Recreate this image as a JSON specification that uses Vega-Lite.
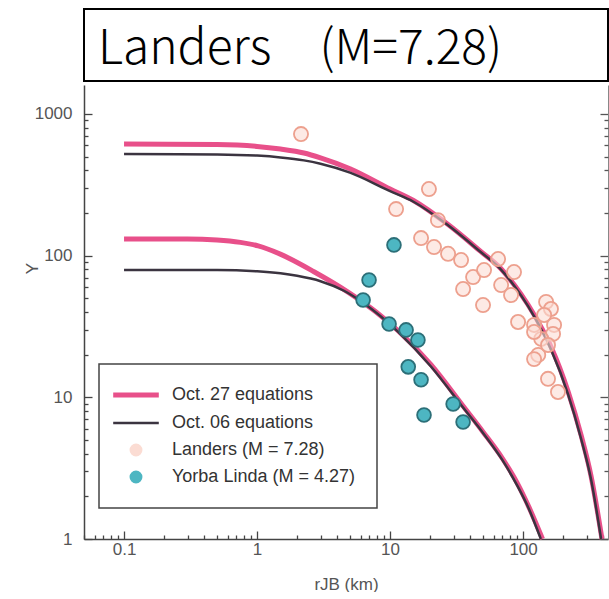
{
  "$schema": "https://vega.github.io/schema/vega-lite/v6.json",
  "padding": {"left": 23, "top": 8, "right": 0, "bottom": 0},
  "spacing": 3,
  "background": "white",
  "config": {"view": {"stroke": null}, "font": "Liberation Sans"},
  "datasets": {
    "curves": [
      {"series": "Oct. 27 equations", "curve": "outer", "r": 0.1, "Y": 613},
      {"series": "Oct. 27 equations", "curve": "outer", "r": 0.5, "Y": 608},
      {"series": "Oct. 27 equations", "curve": "outer", "r": 1, "Y": 590},
      {"series": "Oct. 27 equations", "curve": "outer", "r": 1.5, "Y": 565},
      {"series": "Oct. 27 equations", "curve": "outer", "r": 2.25, "Y": 530},
      {"series": "Oct. 27 equations", "curve": "outer", "r": 3, "Y": 490},
      {"series": "Oct. 27 equations", "curve": "outer", "r": 5, "Y": 410},
      {"series": "Oct. 27 equations", "curve": "outer", "r": 10, "Y": 295},
      {"series": "Oct. 27 equations", "curve": "outer", "r": 15, "Y": 245},
      {"series": "Oct. 27 equations", "curve": "outer", "r": 27, "Y": 167},
      {"series": "Oct. 27 equations", "curve": "outer", "r": 48, "Y": 107},
      {"series": "Oct. 27 equations", "curve": "outer", "r": 68, "Y": 81},
      {"series": "Oct. 27 equations", "curve": "outer", "r": 86, "Y": 62},
      {"series": "Oct. 27 equations", "curve": "outer", "r": 109, "Y": 45},
      {"series": "Oct. 27 equations", "curve": "outer", "r": 140, "Y": 30},
      {"series": "Oct. 27 equations", "curve": "outer", "r": 163, "Y": 22.5},
      {"series": "Oct. 27 equations", "curve": "outer", "r": 218, "Y": 11},
      {"series": "Oct. 27 equations", "curve": "outer", "r": 273, "Y": 5.4},
      {"series": "Oct. 27 equations", "curve": "outer", "r": 324, "Y": 2.8},
      {"series": "Oct. 27 equations", "curve": "outer", "r": 392, "Y": 1},
      {"series": "Oct. 27 equations", "curve": "inner", "r": 0.1, "Y": 131},
      {"series": "Oct. 27 equations", "curve": "inner", "r": 0.3, "Y": 131},
      {"series": "Oct. 27 equations", "curve": "inner", "r": 0.5, "Y": 129},
      {"series": "Oct. 27 equations", "curve": "inner", "r": 0.75, "Y": 124},
      {"series": "Oct. 27 equations", "curve": "inner", "r": 1.02, "Y": 117},
      {"series": "Oct. 27 equations", "curve": "inner", "r": 1.51, "Y": 102},
      {"series": "Oct. 27 equations", "curve": "inner", "r": 2.68, "Y": 77},
      {"series": "Oct. 27 equations", "curve": "inner", "r": 4.83, "Y": 55.3},
      {"series": "Oct. 27 equations", "curve": "inner", "r": 7.85, "Y": 40},
      {"series": "Oct. 27 equations", "curve": "inner", "r": 11.5, "Y": 29.5},
      {"series": "Oct. 27 equations", "curve": "inner", "r": 20.3, "Y": 17},
      {"series": "Oct. 27 equations", "curve": "inner", "r": 36, "Y": 8.5},
      {"series": "Oct. 27 equations", "curve": "inner", "r": 50, "Y": 5.7},
      {"series": "Oct. 27 equations", "curve": "inner", "r": 70, "Y": 3.7},
      {"series": "Oct. 27 equations", "curve": "inner", "r": 90, "Y": 2.5},
      {"series": "Oct. 27 equations", "curve": "inner", "r": 110, "Y": 1.7},
      {"series": "Oct. 27 equations", "curve": "inner", "r": 140, "Y": 1},
      {"series": "Oct. 06 equations", "curve": "outer", "r": 0.1, "Y": 521},
      {"series": "Oct. 06 equations", "curve": "outer", "r": 0.5, "Y": 518},
      {"series": "Oct. 06 equations", "curve": "outer", "r": 1, "Y": 508},
      {"series": "Oct. 06 equations", "curve": "outer", "r": 1.5, "Y": 493},
      {"series": "Oct. 06 equations", "curve": "outer", "r": 2.25, "Y": 470},
      {"series": "Oct. 06 equations", "curve": "outer", "r": 3, "Y": 445},
      {"series": "Oct. 06 equations", "curve": "outer", "r": 5, "Y": 385},
      {"series": "Oct. 06 equations", "curve": "outer", "r": 10, "Y": 285},
      {"series": "Oct. 06 equations", "curve": "outer", "r": 15, "Y": 240},
      {"series": "Oct. 06 equations", "curve": "outer", "r": 27, "Y": 165},
      {"series": "Oct. 06 equations", "curve": "outer", "r": 48, "Y": 106},
      {"series": "Oct. 06 equations", "curve": "outer", "r": 68, "Y": 80},
      {"series": "Oct. 06 equations", "curve": "outer", "r": 86, "Y": 61},
      {"series": "Oct. 06 equations", "curve": "outer", "r": 109, "Y": 44},
      {"series": "Oct. 06 equations", "curve": "outer", "r": 140, "Y": 29},
      {"series": "Oct. 06 equations", "curve": "outer", "r": 163, "Y": 21.5},
      {"series": "Oct. 06 equations", "curve": "outer", "r": 218, "Y": 10.5},
      {"series": "Oct. 06 equations", "curve": "outer", "r": 273, "Y": 5.1},
      {"series": "Oct. 06 equations", "curve": "outer", "r": 324, "Y": 2.65},
      {"series": "Oct. 06 equations", "curve": "outer", "r": 386, "Y": 1},
      {"series": "Oct. 06 equations", "curve": "inner", "r": 0.1, "Y": 79},
      {"series": "Oct. 06 equations", "curve": "inner", "r": 0.5, "Y": 79},
      {"series": "Oct. 06 equations", "curve": "inner", "r": 1, "Y": 77.5},
      {"series": "Oct. 06 equations", "curve": "inner", "r": 1.5, "Y": 75},
      {"series": "Oct. 06 equations", "curve": "inner", "r": 2, "Y": 72},
      {"series": "Oct. 06 equations", "curve": "inner", "r": 3, "Y": 66},
      {"series": "Oct. 06 equations", "curve": "inner", "r": 4.5, "Y": 56.5},
      {"series": "Oct. 06 equations", "curve": "inner", "r": 6.38, "Y": 46},
      {"series": "Oct. 06 equations", "curve": "inner", "r": 11.5, "Y": 29},
      {"series": "Oct. 06 equations", "curve": "inner", "r": 20.3, "Y": 16.5},
      {"series": "Oct. 06 equations", "curve": "inner", "r": 36, "Y": 8.3},
      {"series": "Oct. 06 equations", "curve": "inner", "r": 50, "Y": 5.6},
      {"series": "Oct. 06 equations", "curve": "inner", "r": 70, "Y": 3.6},
      {"series": "Oct. 06 equations", "curve": "inner", "r": 90, "Y": 2.4},
      {"series": "Oct. 06 equations", "curve": "inner", "r": 110, "Y": 1.65},
      {"series": "Oct. 06 equations", "curve": "inner", "r": 136, "Y": 1}
    ],
    "obs": [
      {"series": "Landers (M = 7.28)", "r": 2.14, "Y": 721},
      {"series": "Landers (M = 7.28)", "r": 11.1, "Y": 213},
      {"series": "Landers (M = 7.28)", "r": 19.6, "Y": 295},
      {"series": "Landers (M = 7.28)", "r": 22.9, "Y": 178},
      {"series": "Landers (M = 7.28)", "r": 17.1, "Y": 133},
      {"series": "Landers (M = 7.28)", "r": 21.4, "Y": 115},
      {"series": "Landers (M = 7.28)", "r": 27.3, "Y": 103},
      {"series": "Landers (M = 7.28)", "r": 34.2, "Y": 93.1},
      {"series": "Landers (M = 7.28)", "r": 42.1, "Y": 70.6},
      {"series": "Landers (M = 7.28)", "r": 35.4, "Y": 58.1},
      {"series": "Landers (M = 7.28)", "r": 50.9, "Y": 79.1},
      {"series": "Landers (M = 7.28)", "r": 64.9, "Y": 94.6},
      {"series": "Landers (M = 7.28)", "r": 85.5, "Y": 76.6},
      {"series": "Landers (M = 7.28)", "r": 68.4, "Y": 62.0},
      {"series": "Landers (M = 7.28)", "r": 81.2, "Y": 52.7},
      {"series": "Landers (M = 7.28)", "r": 50.0, "Y": 44.8},
      {"series": "Landers (M = 7.28)", "r": 91.7, "Y": 34.0},
      {"series": "Landers (M = 7.28)", "r": 121, "Y": 32.4},
      {"series": "Landers (M = 7.28)", "r": 149, "Y": 47.1},
      {"series": "Landers (M = 7.28)", "r": 162, "Y": 42.0},
      {"series": "Landers (M = 7.28)", "r": 144, "Y": 38.1},
      {"series": "Landers (M = 7.28)", "r": 171, "Y": 32.4},
      {"series": "Landers (M = 7.28)", "r": 168, "Y": 28.0},
      {"series": "Landers (M = 7.28)", "r": 137, "Y": 25.8},
      {"series": "Landers (M = 7.28)", "r": 130, "Y": 19.9},
      {"series": "Landers (M = 7.28)", "r": 154, "Y": 23.4},
      {"series": "Landers (M = 7.28)", "r": 154, "Y": 13.5},
      {"series": "Landers (M = 7.28)", "r": 183, "Y": 10.9},
      {"series": "Landers (M = 7.28)", "r": 121, "Y": 28.9},
      {"series": "Landers (M = 7.28)", "r": 121, "Y": 18.6},
      {"series": "Yorba Linda (M = 4.27)", "r": 10.7, "Y": 119},
      {"series": "Yorba Linda (M = 4.27)", "r": 6.95, "Y": 67.3},
      {"series": "Yorba Linda (M = 4.27)", "r": 6.27, "Y": 48.6},
      {"series": "Yorba Linda (M = 4.27)", "r": 9.83, "Y": 32.9},
      {"series": "Yorba Linda (M = 4.27)", "r": 13.2, "Y": 29.9},
      {"series": "Yorba Linda (M = 4.27)", "r": 16.2, "Y": 25.4},
      {"series": "Yorba Linda (M = 4.27)", "r": 13.7, "Y": 16.4},
      {"series": "Yorba Linda (M = 4.27)", "r": 17.1, "Y": 13.3},
      {"series": "Yorba Linda (M = 4.27)", "r": 29.8, "Y": 8.97},
      {"series": "Yorba Linda (M = 4.27)", "r": 18.0, "Y": 7.5},
      {"series": "Yorba Linda (M = 4.27)", "r": 35.4, "Y": 6.69}
    ]
  },
  "vconcat": [
    {
      "width": 524,
      "height": 72,
      "view": {"stroke": "#000000", "strokeWidth": 2, "fill": "white"},
      "data": {"values": [{"t": "Landers　(M=7.28)"}]},
      "mark": {"type": "text", "font": "Noto Sans CJK JP", "fontSize": 48, "fontWeight": 300, "align": "center", "baseline": "alphabetic", "dx": -46, "dy": 19, "color": "#000000"},
      "encoding": {"text": {"field": "t", "type": "nominal"}}
    },
    {
      "width": 524,
      "height": 454,
      "layer": [
        {
          "data": {"name": "curves"},
          "transform": [{"filter": "datum.series === 'Oct. 27 equations'"}],
          "mark": {"type": "line", "strokeWidth": 5, "interpolate": "monotone"},
          "encoding": {
            "x": {"field": "r", "type": "quantitative",
              "scale": {"type": "log", "domain": [0.05, 435], "nice": false},
              "axis": {
                "orient": "bottom",
                "values": [0.1, 1, 10, 100],
                "format": "~g",
                "ticks": true, "tickSize": -8,
                "title": "rJB (km)", "grid": false,
                "domainColor": "#444444", "domainWidth": 1.5, "tickColor": "#444444", "tickWidth": 1.3,
                "labelFontSize": 17, "labelColor": "#555555", "labelPadding": 10, "labelFlush": false,
                "titleFontSize": 17, "titleFontWeight": "normal", "titleColor": "#555555", "titlePadding": 19
              }},
            "y": {"field": "Y", "type": "quantitative",
              "scale": {"type": "log", "domain": [1, 1600], "nice": false},
              "axis": {
                "orient": "left",
                "values": [1, 10, 100, 1000],
                "format": "~g",
                "ticks": true, "tickSize": -8,
                "title": "Y", "titleX": -52, "titleY": 183, "titleAlign": "center", "titleBaseline": "middle", "titleAngle": -90,
                "grid": false,
                "domainColor": "#444444", "domainWidth": 1.5, "tickColor": "#444444", "tickWidth": 1.3,
                "labelFontSize": 17, "labelColor": "#555555", "labelPadding": 20, "labelFlush": false,
                "titleFontSize": 17, "titleFontWeight": "normal", "titleColor": "#555555"
              }},
            "color": {"field": "series", "type": "nominal",
              "scale": {"domain": ["Oct. 27 equations", "Oct. 06 equations", "Landers (M = 7.28)", "Yorba Linda (M = 4.27)"],
                        "range": ["#e8508a", "#3b3440", "#fbdcd3", "#4db6c2"]},
              "legend": {
                "title": null, "orient": "none", "legendX": 15, "legendY": 355,
                "padding": 22, "rowPadding": 9, "symbolOffset": 6, "labelOffset": 27, "symbolSize": 130,
                "labelFontSize": 18, "labelColor": "#333333", "labelFont": "Liberation Sans", "labelLimit": 400,
                "strokeColor": "#444444", "fillColor": "white", "cornerRadius": 0,
                "encode": {
                  "legend": {"update": {"strokeWidth": {"value": 1.5}}},
                  "symbols": {"update": {
                  "shape": {"signal": "datum.value === 'Oct. 27 equations' || datum.value === 'Oct. 06 equations' ? 'M-4,0H4' : 'circle'"},
                  "size": {"value": 130},
                  "strokeWidth": {"signal": "datum.value === 'Oct. 27 equations' ? 5 : datum.value === 'Oct. 06 equations' ? 2.5 : 1.5"},
                  "stroke": {"signal": "datum.value === 'Oct. 27 equations' ? '#e8508a' : datum.value === 'Oct. 06 equations' ? '#3b3440' : datum.value === 'Landers (M = 7.28)' ? '#eda08e' : '#2c6f78'"},
                  "fill": {"signal": "datum.value === 'Landers (M = 7.28)' ? '#fde5de' : datum.value === 'Yorba Linda (M = 4.27)' ? '#55b9c4' : 'transparent'"},
                  "opacity": {"value": 1}
                }}}
              }},
            "detail": {"field": "curve", "type": "nominal"}
          }
        },
        {
          "data": {"name": "curves"},
          "transform": [{"filter": "datum.series === 'Oct. 06 equations'"}],
          "mark": {"type": "line", "strokeWidth": 2.5, "interpolate": "monotone"},
          "encoding": {
            "x": {"field": "r", "type": "quantitative", "scale": {"type": "log", "domain": [0.05, 435], "nice": false},
              "axis": {
                "orient": "bottom",
                "values": [0.05,0.06,0.07,0.08,0.09,0.2,0.3,0.4,0.5,0.6,0.7,0.8,0.9,2,3,4,5,6,7,8,9,20,30,40,50,60,70,80,90,200,300,400],
                "labels": false, "title": null, "grid": false, "domain": false,
                "ticks": true, "tickSize": -4, "tickColor": "#444444", "tickWidth": 1.3
              }},
            "y": {"field": "Y", "type": "quantitative",
              "scale": {"type": "log", "domain": [1, 1600], "nice": false},
              "axis": {
                "orient": "left",
                "values": [2,3,4,5,6,7,8,9,20,30,40,50,60,70,80,90,200,300,400,500,600,700,800,900],
                "labels": false, "title": null, "grid": false, "domain": false,
                "ticks": true, "tickSize": -4, "tickColor": "#444444", "tickWidth": 1.3
              }},
            "color": {"field": "series", "type": "nominal"},
            "detail": {"field": "curve", "type": "nominal"}
          }
        },
        {
          "data": {"name": "obs"},
          "transform": [{"filter": "datum.series === 'Landers (M = 7.28)'"}],
          "mark": {"type": "point", "filled": true, "size": 200, "stroke": "#eda08e", "strokeWidth": 1.8, "fillOpacity": 0.6, "opacity": 1},
          "encoding": {
            "x": {"field": "r", "type": "quantitative", "scale": {"type": "log", "domain": [0.05, 435], "nice": false}, "axis": null},
            "y": {"field": "Y", "type": "quantitative", "scale": {"type": "log", "domain": [1, 1600], "nice": false},
              "axis": {
                "orient": "right", "values": [1, 10, 100, 1000],
                "labels": false, "title": null, "grid": false,
                "tickSize": -8, "domainColor": "#888888", "domainWidth": 1, "tickColor": "#555555", "tickWidth": 1.3
              }},
            "color": {"field": "series", "type": "nominal"}
          }
        },
        {
          "data": {"name": "obs"},
          "transform": [{"filter": "datum.series === 'Yorba Linda (M = 4.27)'"}],
          "mark": {"type": "point", "filled": true, "size": 190, "stroke": "#2c6f78", "strokeWidth": 1.8, "opacity": 1},
          "encoding": {
            "x": {"field": "r", "type": "quantitative", "scale": {"type": "log", "domain": [0.05, 435], "nice": false}, "axis": null},
            "y": {"field": "Y", "type": "quantitative", "scale": {"type": "log", "domain": [1, 1600], "nice": false},
              "axis": {
                "orient": "right",
                "values": [2,3,4,5,6,7,8,9,20,30,40,50,60,70,80,90,200,300,400,500,600,700,800,900],
                "labels": false, "title": null, "grid": false, "domain": false,
                "tickSize": -4, "tickColor": "#555555", "tickWidth": 1.3
              }},
            "color": {"field": "series", "type": "nominal"}
          }
        }
      ],
      "resolve": {"axis": {"x": "independent", "y": "independent"}}
    }
  ]
}
